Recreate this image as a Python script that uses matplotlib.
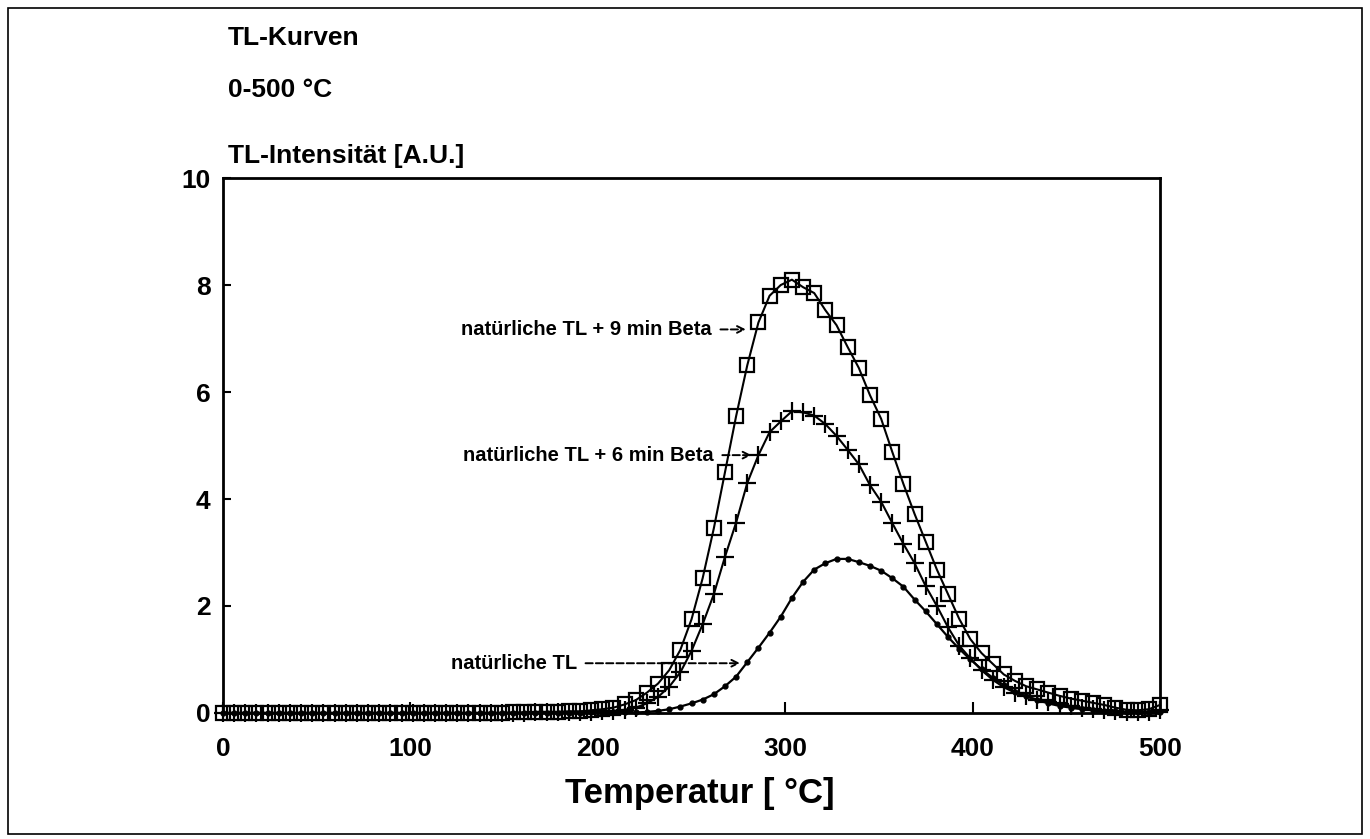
import numpy as np
import matplotlib
matplotlib.use("Agg")
import matplotlib.pyplot as plt
from matplotlib.patches import Rectangle

plt.rcParams['font.family'] = ['Liberation Sans', 'DejaVu Sans']
plt.rcParams['font.weight'] = 'bold'

# Temperature grid (about 6 degC per reading)
temperature = np.linspace(0, 500, 85)

# natural TL + 9 min Beta (squares)
beta9 = [
    0.00, 0.00, 0.00, 0.00, 0.00, 0.00, 0.00, 0.00, 0.00, 0.00,
    0.00, 0.00, 0.00, 0.00, 0.00, 0.00, 0.00, 0.00, 0.00, 0.00,
    0.00, 0.00, 0.00, 0.00, 0.00, 0.00, 0.01, 0.01, 0.02, 0.02,
    0.02, 0.03, 0.03, 0.05, 0.07, 0.10, 0.16, 0.24, 0.38, 0.55,
    0.80, 1.18, 1.75, 2.52, 3.45, 4.50, 5.55, 6.50, 7.30, 7.80,
    8.00, 8.10, 7.96, 7.85, 7.53, 7.25, 6.84, 6.45, 5.94, 5.50,
    4.88, 4.28, 3.72, 3.20, 2.68, 2.22, 1.76, 1.38, 1.12, 0.92,
    0.72, 0.60, 0.50, 0.44, 0.38, 0.32, 0.27, 0.23, 0.19, 0.15,
    0.10, 0.06, 0.05, 0.07, 0.15,
]

# natural TL + 6 min Beta (plus signs)
beta6 = [
    0.00, 0.00, 0.00, 0.00, 0.00, 0.00, 0.00, 0.00, 0.00, 0.00,
    0.00, 0.00, 0.00, 0.00, 0.00, 0.00, 0.00, 0.00, 0.00, 0.00,
    0.00, 0.00, 0.00, 0.00, 0.00, 0.00, 0.00, 0.00, 0.01, 0.01,
    0.01, 0.02, 0.02, 0.02, 0.03, 0.04, 0.06, 0.10, 0.18, 0.30,
    0.49, 0.76, 1.16, 1.66, 2.22, 2.92, 3.56, 4.30, 4.82, 5.25,
    5.45, 5.64, 5.62, 5.56, 5.40, 5.18, 4.92, 4.65, 4.26, 3.95,
    3.55, 3.16, 2.80, 2.37, 2.00, 1.60, 1.26, 1.02, 0.80, 0.62,
    0.48, 0.38, 0.31, 0.25, 0.20, 0.16, 0.13, 0.10, 0.08, 0.05,
    0.03, 0.02, 0.02, 0.02, 0.05,
]

# natural TL (dots)
natural = [
    0.00, 0.00, 0.00, 0.00, 0.00, 0.00, 0.00, 0.00, 0.00, 0.00,
    0.00, 0.00, 0.00, 0.00, 0.00, 0.00, 0.00, 0.00, 0.00, 0.00,
    0.00, 0.00, 0.00, 0.00, 0.00, 0.00, 0.00, 0.00, 0.00, 0.00,
    0.00, 0.00, 0.00, 0.01, 0.01, 0.01, 0.01, 0.01, 0.02, 0.04,
    0.07, 0.12, 0.18, 0.25, 0.35, 0.50, 0.68, 0.95, 1.22, 1.50,
    1.80, 2.15, 2.45, 2.68, 2.80, 2.88, 2.88, 2.82, 2.75, 2.66,
    2.52, 2.36, 2.12, 1.90, 1.66, 1.42, 1.20, 1.00, 0.82, 0.66,
    0.52, 0.40, 0.31, 0.24, 0.18, 0.13, 0.10, 0.07, 0.05, 0.04,
    0.03, 0.02, 0.02, 0.02, 0.02,
]

x_ticks = [0, 100, 200, 300, 400, 500]
y_ticks = [0, 2, 4, 6, 8, 10]

fig = plt.figure(figsize=(13.7, 8.39), dpi=100)
ax = fig.add_axes([0.1628, 0.1502, 0.6839, 0.6376])

ax.plot(temperature, beta9, '-', color='black', lw=1.5, clip_on=False,
        marker='s', ms=10, mfc='none', mec='black', mew=1.6)
ax.plot(temperature, beta6, '-', color='black', lw=1.5, clip_on=False,
        marker='+', ms=13, mew=1.6)
ax.plot(temperature, natural, '-', color='black', lw=1.6, clip_on=False,
        marker='o', ms=3.5, mfc='black', mec='black')

ax.set_xlim(0, 500)
ax.set_ylim(0, 10)
ax.set_xticks(x_ticks)
ax.set_yticks(y_ticks)
ax.tick_params(axis='x', direction='in', length=8, width=1.5, pad=17, labelsize=19)
ax.tick_params(axis='y', direction='in', length=6, width=1.5, pad=9, labelsize=19)
for s in ax.spines.values():
    s.set_linewidth(2)

arrow = dict(arrowstyle='->', linestyle='--', color='black', lw=1.4,
             shrinkA=4, shrinkB=0, mutation_scale=12)
ax.annotate('natürliche TL + 9 min Beta', xy=(279, 7.17), xytext=(261, 7.17),
            ha='right', va='center', fontsize=14.5, arrowprops=arrow)
ax.annotate('natürliche TL + 6 min Beta', xy=(282, 4.82), xytext=(262, 4.82),
            ha='right', va='center', fontsize=14.5, arrowprops=arrow)
ax.annotate('natürliche TL', xy=(276, 0.93), xytext=(189, 0.93),
            ha='right', va='center', fontsize=14.5, arrowprops=arrow)

fig.text(0.1664, 0.9464, 'TL-Kurven', fontsize=19, va='baseline')
fig.text(0.1664, 0.8844, '0-500 °C', fontsize=19, va='baseline')
fig.text(0.1664, 0.8057, 'TL-Intensität [A.U.]', fontsize=19, va='baseline')
fig.text(0.511, 0.0548, 'Temperatur [ °C]', fontsize=25, ha='center', va='center')

fig.patches.append(Rectangle((0.006, 0.006), 0.988, 0.985, transform=fig.transFigure,
                             fill=False, lw=1.2, edgecolor='black'))

fig.savefig('out.png', dpi=100)
